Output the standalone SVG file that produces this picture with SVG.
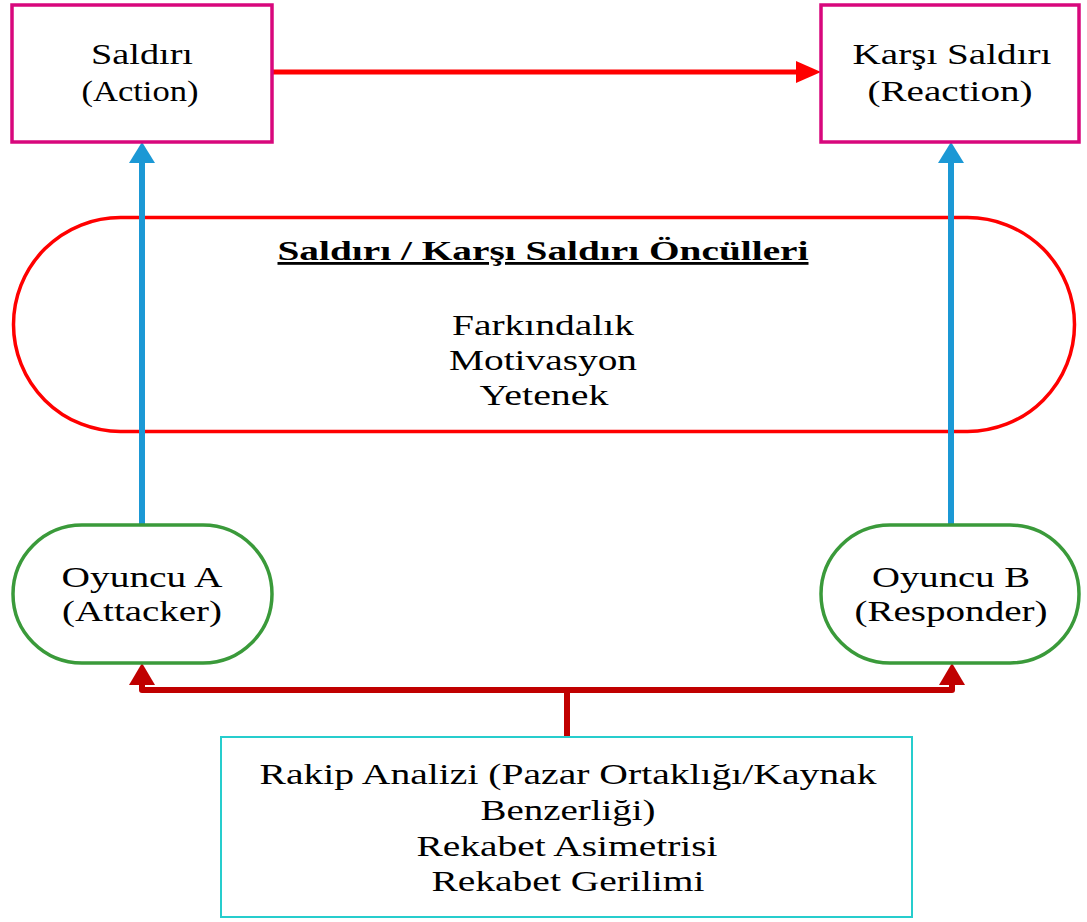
<svg xmlns="http://www.w3.org/2000/svg" width="1087" height="922" viewBox="0 0 1087 922">
<style>
text{font-family:"Liberation Serif","Times New Roman",serif;font-size:30px;fill:#000;text-anchor:middle}
.t{font-weight:bold;font-size:28px;text-decoration:underline}
.mag{fill:#fff;stroke:#D8077C;stroke-width:3.5}
.grn{fill:#fff;stroke:#3A9A3A;stroke-width:3.5}
.cyn{fill:#fff;stroke:#26CDCD;stroke-width:2}
.ova{fill:none;stroke:#FF0000;stroke-width:3.5}
.blue{stroke:#1B98D5;stroke-width:6;fill:none}
.red{stroke:#FF0000;stroke-width:5;fill:none}
.dred{stroke:#C00000;stroke-width:6;fill:none;stroke-linejoin:round;stroke-linecap:round}
</style>
<rect width="1087" height="922" fill="#fff"/>
<g id="precursors">
<rect class="ova" x="13.5" y="217.5" width="1061" height="214" rx="107" ry="107"/>
<text class="t" x="543" y="260" textLength="531" lengthAdjust="spacingAndGlyphs">Saldırı / Karşı Saldırı Öncülleri</text>
<text x="543" y="335" textLength="182" lengthAdjust="spacingAndGlyphs">Farkındalık</text>
<text x="543" y="370" textLength="188" lengthAdjust="spacingAndGlyphs">Motivasyon</text>
<text x="544" y="405" textLength="129" lengthAdjust="spacingAndGlyphs">Yetenek</text>
</g>
<g id="connectors">
<line class="blue" x1="142" y1="525" x2="142" y2="160"/>
<polygon points="142,142 129,163 155,163" fill="#1B98D5"/>
<line class="blue" x1="951" y1="525" x2="951" y2="160"/>
<polygon points="951,142 938,163 964,163" fill="#1B98D5"/>
<line class="red" x1="272" y1="72" x2="800" y2="72"/>
<polygon points="821,72 796,61 796,83" fill="#FF0000"/>
<polyline class="dred" points="142,683 142,690 952,690 952,683"/>
<line class="dred" x1="567" y1="690" x2="567" y2="736"/>
<polygon points="142,663 129,685 155,685" fill="#C00000"/>
<polygon points="952,663 939,685 965,685" fill="#C00000"/>
</g>
<g id="action">
<rect class="mag" x="12" y="5" width="260" height="137"/>
<text x="142" y="64" textLength="102" lengthAdjust="spacingAndGlyphs">Saldırı</text>
<text x="140" y="101" textLength="117" lengthAdjust="spacingAndGlyphs">(Action)</text>
</g>
<g id="reaction">
<rect class="mag" x="821" y="5" width="258" height="137"/>
<text x="952" y="64" textLength="199" lengthAdjust="spacingAndGlyphs">Karşı Saldırı</text>
<text x="950" y="101" textLength="165" lengthAdjust="spacingAndGlyphs">(Reaction)</text>
</g>
<g id="playerA">
<rect class="grn" x="13" y="525" width="259" height="138" rx="69" ry="69"/>
<text x="142" y="587" textLength="161" lengthAdjust="spacingAndGlyphs">Oyuncu A</text>
<text x="142" y="621" textLength="160" lengthAdjust="spacingAndGlyphs">(Attacker)</text>
</g>
<g id="playerB">
<rect class="grn" x="821" y="525" width="258" height="138" rx="69" ry="69"/>
<text x="951" y="587" textLength="158" lengthAdjust="spacingAndGlyphs">Oyuncu B</text>
<text x="951" y="621" textLength="193" lengthAdjust="spacingAndGlyphs">(Responder)</text>
</g>
<g id="analysis">
<rect class="cyn" x="221" y="737" width="691" height="180"/>
<text x="568" y="784" textLength="617" lengthAdjust="spacingAndGlyphs">Rakip Analizi (Pazar Ortaklığı/Kaynak</text>
<text x="568" y="820" textLength="175" lengthAdjust="spacingAndGlyphs">Benzerliği)</text>
<text x="567" y="856" textLength="301" lengthAdjust="spacingAndGlyphs">Rekabet Asimetrisi</text>
<text x="568" y="891" textLength="273" lengthAdjust="spacingAndGlyphs">Rekabet Gerilimi</text>
</g>
</svg>
